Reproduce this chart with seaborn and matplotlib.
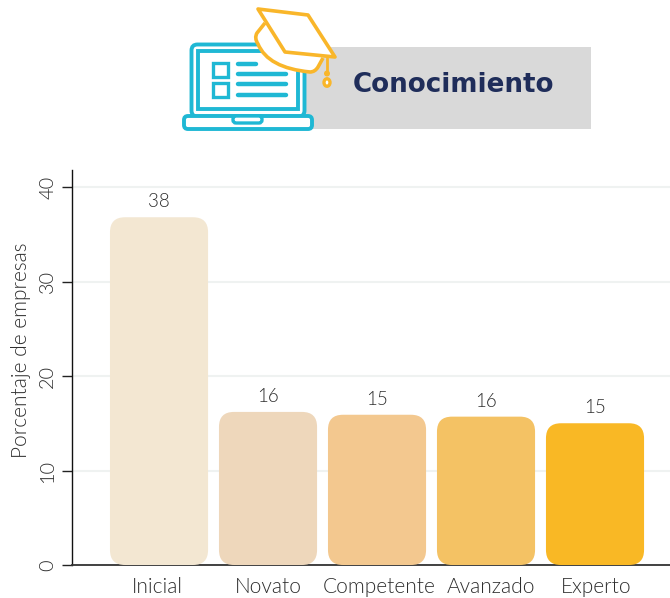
import matplotlib
matplotlib.use("Agg")
import matplotlib.pyplot as plt
import seaborn as sns
from matplotlib.patches import FancyBboxPatch, Rectangle, Polygon, PathPatch, Ellipse
from matplotlib.path import Path
from matplotlib.transforms import ScaledTranslation

categories = ["Inicial", "Novato", "Competente", "Avanzado", "Experto"]
bar_heights = [36.8, 16.2, 15.9, 15.7, 15.0]
value_labels = ["38", "16", "15", "16", "15"]
bar_colors = ["#F3E7D2", "#EED7BB", "#F3C88F", "#F4C264", "#F9B825"]
y_ticks = [0, 10, 20, 30, 40]
title = "Conocimiento"
y_label = "Porcentaje de empresas"

W, H = 670, 598
sns.set_theme(style="white")
plt.rcParams["font.family"] = ["Lato", "DejaVu Sans"]
TEXT = "#2E2E2E"
FS = 15
WT = 300
fig = plt.figure(figsize=(W / 100, H / 100), dpi=100, facecolor="white")

# Chart area
L, R, T, B = 71.5, 670, 170, 565
ax = fig.add_axes([L / W, 1 - B / H, (R - L) / W, (B - T) / H])
sns.barplot(x=categories, y=bar_heights, hue=categories, palette=bar_colors,
            legend=False, width=0.9, ax=ax, saturation=1)
ax.set_xlim(-0.803, 4.688)
ax.set_ylim(0, 41.8)

px_x = (R - L) / (4.688 + 0.803)
px_y = (B - T) / 41.8
rad = 15 / px_x
for p, c, lab in zip(list(ax.patches), bar_colors, value_labels):
    x, w, h = p.get_x(), p.get_width(), p.get_height()
    p.set_visible(False)
    ax.add_patch(FancyBboxPatch((x, 0), w, h,
                                boxstyle=f"round,pad=0,rounding_size={rad}",
                                mutation_aspect=px_x / px_y,
                                fc=c, ec="none", zorder=3))
    ax.annotate(lab, (x + w / 2, h), xytext=(0, 5), textcoords="offset points",
                ha="center", va="bottom", fontsize=13.5, color=TEXT, fontweight=WT)

ax.set_yticks(y_ticks)
ax.set_yticklabels([str(t) for t in y_ticks], rotation=90, va="center", fontsize=14.3,
                   color=TEXT, fontweight=WT)
ax.set_xticks(range(len(categories)))
ax.set_xticklabels(categories, fontsize=FS, color=TEXT, fontweight=WT)
ax.tick_params(axis="x", length=0, pad=8.5)
ax.tick_params(axis="y", length=7, width=1, color="#222222", pad=4, left=True)
for lbl, dx in zip(ax.get_xticklabels(), [-2, 0, 2, 5, 1]):
    lbl.set_transform(lbl.get_transform() + ScaledTranslation(dx / 100, 0, fig.dpi_scale_trans))
ax.set_xlabel("")
ax.set_ylabel(y_label, fontsize=FS, color=TEXT, fontweight=WT, labelpad=8)
ax.yaxis.set_label_coords(-0.068, (B - 350) / (B - T))
ax.grid(axis="y", color="#EFF2F1", lw=1.5)
ax.set_axisbelow(True)
sns.despine(ax=ax)
ax.spines["left"].set_color("#111111")
ax.spines["left"].set_linewidth(1)
ax.spines["bottom"].set_color("#333333")
ax.spines["bottom"].set_linewidth(1.3)

# Header graphic, in pixel coordinates
hd = fig.add_axes([0, 0, 1, 1], zorder=5)
hd.set_xlim(0, W)
hd.set_ylim(H, 0)
hd.axis("off")
hd.patch.set_alpha(0)
BLUE = "#1FB8D4"
GOLD = "#F9B62A"
hd.add_patch(Rectangle((305, 47), 286, 82, fc="#D9D9D9", ec="none"))
hd.text(353, 85, title, fontsize=18.8, fontweight="bold", color="#1F2D5A",
        family=["DejaVu Sans"], ha="left", va="center")

def rbox(x, y, w, h, r, **kw):
    hd.add_patch(FancyBboxPatch((x, y), w, h, boxstyle=f"round,pad=0,rounding_size={r}", **kw))

rbox(191.5, 44.5, 113, 72, 6, fc="white", ec=BLUE, lw=2.8)
hd.add_patch(Rectangle((198, 51), 100, 58, fc="white", ec=BLUE, lw=2.8))
rbox(184, 116, 128, 13, 4, fc="white", ec=BLUE, lw=2.8)
rbox(233, 116, 29, 7, 3, fc="white", ec=BLUE, lw=2.4)
hd.add_patch(Rectangle((212.5, 62.5), 15, 14, fc="white", ec=BLUE, lw=2.4))
hd.add_patch(Rectangle((212.5, 83), 15, 14, fc="white", ec=BLUE, lw=2.4))
for x1, yy in [(256, 64), (286, 74), (286, 84), (286, 95)]:
    hd.plot([238, x1], [yy, yy], color=BLUE, lw=3.2, solid_capstyle="round")

cap = Path([(265, 23), (257, 33), (254, 38), (258, 44), (268, 68), (310, 72), (315, 72), (318, 67), (323, 58)],
           [Path.MOVETO, Path.LINETO, Path.CURVE3, Path.CURVE3, Path.CURVE3, Path.CURVE3,
            Path.CURVE3, Path.CURVE3, Path.LINETO])
hd.add_patch(PathPatch(cap, fc="white", ec=GOLD, lw=2.6, joinstyle="round"))
hd.add_patch(Polygon([(258, 9), (308, 15), (335, 57), (285, 52)], closed=True,
                     fc="white", ec=GOLD, lw=2.6, joinstyle="round"))
hd.plot([327, 327], [58, 72], color=GOLD, lw=2)
hd.add_patch(Ellipse((327, 73.5), 6, 6, fc=GOLD, ec="none"))
hd.add_patch(Ellipse((327, 82.5), 6, 7.5, fc="white", ec=GOLD, lw=2.4))

fig.savefig("out.png", dpi=100)
